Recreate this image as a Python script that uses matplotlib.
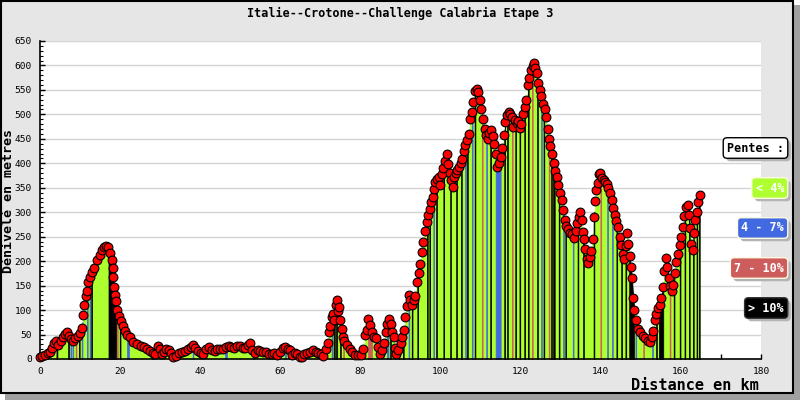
import matplotlib
matplotlib.use("Agg")
import matplotlib.pyplot as plt
import numpy as np
from matplotlib.patches import Rectangle, FancyBboxPatch
from matplotlib.transforms import IdentityTransform

# profile (km, metres)
dist_km = [
    0.0, 0.6, 1.2, 1.9, 2.5, 3.1, 3.6, 4.0, 4.6, 5.2, 5.8, 6.3, 6.8, 7.3, 7.8, 8.3, 8.8, 9.4,
    10.0, 10.4, 10.8, 11.1, 11.4, 11.7, 12.0, 12.4, 12.9, 13.4, 14.2, 15.0, 15.6, 16.1, 16.6,
    17.1, 17.6, 17.9, 18.1, 18.3, 18.5, 18.8, 19.0, 19.3, 19.7, 20.1, 20.6, 21.2, 21.8, 22.5,
    23.3, 24.2, 25.1, 26.0, 26.8, 27.5, 28.2, 28.8, 29.4, 29.9, 30.4, 30.9, 31.5, 32.1, 32.7,
    33.3, 34.0, 34.8, 35.5, 36.3, 37.0, 37.6, 38.2, 38.8, 39.4, 40.1, 40.8, 41.5, 42.2, 42.9,
    43.6, 44.3, 45.0, 45.7, 46.4, 47.1, 47.8, 48.5, 49.2, 49.9, 50.6, 51.3, 52.0, 52.5, 53.0,
    53.6, 54.3, 55.0, 55.7, 56.4, 57.1, 57.8, 58.5, 59.2, 59.9, 60.6, 61.2, 61.8, 62.4, 63.0,
    63.6, 64.2, 64.8, 65.4, 66.0, 66.7, 67.4, 68.1, 68.8, 69.5, 70.1, 70.7, 71.3, 71.8, 72.2,
    72.5, 72.8, 73.1, 73.5, 73.8, 74.1, 74.4, 74.7, 75.0, 75.3, 75.6, 76.0, 76.6, 77.3, 78.0,
    78.7, 79.4, 80.1, 80.7, 81.2, 81.6, 82.0, 82.4, 82.8, 83.3, 83.8, 84.3, 84.8, 85.3, 85.8,
    86.3, 86.7, 87.2, 87.6, 88.0, 88.3, 88.6, 89.0, 89.5, 90.0, 90.4, 90.8, 91.2, 91.6, 92.0,
    92.4, 92.8, 93.3, 93.7, 94.1, 94.5, 94.9, 95.3, 95.7, 96.1, 96.5, 96.9, 97.3, 97.7, 98.0,
    98.4, 98.7, 99.1, 99.5, 99.9, 100.3, 100.7, 101.1, 101.5, 101.9, 102.3, 102.7, 103.0,
    103.4, 103.8, 104.2, 104.6, 105.0, 105.4, 105.8, 106.2, 106.6, 107.0, 107.4, 107.8,
    108.2, 108.6, 109.0, 109.4, 109.8, 110.2, 110.6, 111.0, 111.4, 111.8, 112.2, 112.6,
    113.0, 113.4, 113.8, 114.2, 114.6, 115.0, 115.4, 115.8, 116.2, 116.6, 117.0, 117.4,
    117.8, 118.2, 118.6, 119.0, 119.4, 119.8, 120.2, 120.6, 121.0, 121.4, 121.8, 122.2,
    122.6, 123.0, 123.3, 123.7, 124.0, 124.4, 124.8, 125.2, 125.6, 126.0, 126.4, 126.7,
    127.0, 127.4, 127.8, 128.2, 128.6, 129.0, 129.4, 129.8, 130.2, 130.6, 131.0, 131.4,
    131.8, 132.3, 132.8, 133.3, 133.7, 134.1, 134.5, 134.8, 135.2, 135.5, 135.8, 136.1,
    136.5, 136.8, 137.2, 137.6, 138.0, 138.3, 138.6, 138.9, 139.2, 139.6, 139.9, 140.3,
    140.7, 141.1, 141.5, 141.9, 142.3, 142.7, 143.1, 143.5, 143.9, 144.3, 144.7, 145.1,
    145.5, 145.8, 146.2, 146.6, 146.9, 147.2, 147.5, 147.8, 148.1, 148.4, 148.8, 149.3,
    149.9, 150.5, 151.1, 151.7, 152.2, 152.7, 153.1, 153.5, 153.9, 154.3, 154.7, 155.1,
    155.5, 155.9, 156.2, 156.6, 157.0, 157.3, 157.7, 158.1, 158.5, 158.9, 159.3, 159.7,
    160.1, 160.5, 160.9, 161.3, 161.7, 162.0, 162.3, 162.6, 162.9, 163.2, 163.5, 163.9,
    164.3, 164.7,
]
elev_m = [
    5, 6, 9, 12, 15, 22, 33, 37, 28, 36, 45, 52, 55, 48, 40, 37, 42, 47,
    53, 64, 90, 110, 128, 140, 158, 167, 178, 186, 202, 212, 222, 228, 231,
    229, 216, 203, 185, 168, 148, 130, 118, 100, 88, 78, 67, 58, 50, 45,
    35, 30, 27, 24, 20, 16, 12, 10, 26, 20, 10, 14, 20, 18, 12,
    4, 7, 12, 15, 17, 20, 25, 28, 22, 17, 13, 10, 20, 24, 18,
    17, 20, 21, 20, 25, 27, 25, 23, 27, 27, 22, 23, 28, 33, 18,
    12, 18, 16, 14, 15, 11, 10, 12, 9, 14, 22, 25, 20, 18, 8,
    12, 10, 5, 4, 10, 12, 15, 18, 14, 12, 10, 7, 20, 32, 55,
    68, 86, 92, 80, 110, 121, 98, 106, 80, 62, 45, 36, 28, 20, 14,
    9, 8, 9, 20, 50, 60, 82, 70, 55, 45, 42, 25, 10, 18, 33,
    55, 72, 82, 72, 55, 45, 22, 10, 18, 33, 45, 60, 85, 108, 130,
    120, 110, 120, 128, 158, 176, 194, 218, 240, 262, 280, 294, 306, 320, 332,
    348, 362, 368, 372, 355, 378, 390, 405, 419, 398, 380, 365, 352,
    372, 380, 387, 392, 400, 408, 425, 437, 448, 460, 490, 505,
    525, 548, 552, 545, 530, 510, 490, 470, 458, 450, 462, 468,
    455, 440, 420, 392, 400, 412, 432, 458, 484, 498, 505, 500,
    494, 475, 488, 482, 486, 472, 480, 500, 515, 530, 560, 575,
    590, 598, 605, 595, 585, 565, 550, 538, 522, 510, 495, 470,
    450, 435, 420, 400, 385, 372, 355, 340, 325, 305, 285, 272,
    265, 258, 255, 248, 262, 278, 290, 300, 285, 260, 245, 225,
    205, 196, 208, 220, 245, 290, 322, 345, 360, 378, 380, 370,
    365, 362, 358, 350, 340, 325, 308, 295, 282, 270, 250, 232,
    215, 204, 230, 258, 235, 210, 188, 165, 125, 100, 80, 62,
    55, 48, 42, 37, 35, 45, 58, 80, 92, 105, 110, 125,
    148, 180, 206, 188, 165, 150, 140, 152, 175, 198, 215, 232,
    250, 270, 292, 310, 315, 295, 268, 235, 222, 258, 285, 300,
    320, 335,
]

# slope classes and the stretches shown in a non-green class (km start, km end, class)
class_labels = ["< 4%", "4 - 7%", "7 - 10%", "> 10%"]
class_colors = ["#adff2f", "#4169e1", "#cd5c5c", "#000000"]

band_start = [
    4.1, 7.0, 7.6, 8.1, 8.9, 9.7, 10.4, 11.7, 12.4, 12.8, 17.1, 19.2, 19.9, 21.7, 27.9,
    38.1, 46.2, 53.2, 61.1, 63.0, 72.8, 73.3, 73.9, 74.9, 75.7, 81.9, 86.6, 87.4, 88.6,
    89.5, 90.6, 92.0, 92.8, 94.2, 96.6, 97.2, 98.2, 98.9, 100.7, 102.4, 103.9, 105.1,
    106.15, 106.6, 107.8, 108.5, 110.3, 111.4, 112.4, 113.75, 115.9, 116.6, 117.8, 118.65,
    119.7, 120.9, 121.8, 122.8, 124.1, 125.1, 125.7, 127.0, 127.6, 128.1, 129.5, 130.6,
    131.15, 133.0, 134.2, 135.6, 138.2, 139.9, 141.6, 142.8, 143.9, 145.1, 146.15, 147.1,
    148.65, 150.6, 152.8, 153.8, 154.5, 157.2, 158.2, 159.7, 160.9, 162.0, 163.0, 163.9,
    164.5,
]
band_end = [
    4.35, 7.25, 7.8, 8.3, 9.1, 9.9, 10.6, 11.9, 12.6, 13.0, 19.0, 19.4, 20.1, 22.2, 28.6,
    38.3, 46.7, 53.4, 61.4, 63.3, 73.0, 73.6, 74.2, 75.1, 75.9, 82.9, 87.0, 87.6, 88.8,
    89.7, 90.8, 92.2, 93.0, 94.4, 96.8, 97.4, 98.4, 99.1, 100.9, 102.6, 104.1, 105.3,
    106.35, 106.8, 108.0, 108.7, 110.5, 111.6, 112.6, 115.0, 116.1, 116.8, 118.0, 118.85,
    119.9, 121.1, 122.0, 123.0, 124.3, 125.3, 125.9, 127.2, 127.8, 128.5, 129.7, 130.8,
    131.35, 133.2, 134.4, 135.8, 138.4, 140.1, 141.8, 143.0, 144.1, 145.3, 146.35, 148.3,
    148.85, 150.8, 153.0, 154.0, 155.6, 157.4, 158.4, 159.9, 161.1, 162.2, 163.2, 164.1,
    164.7,
]
band_class = [
    3, 3, 1, 1, 2, 3, 1, 1, 1, 3, 3, 2, 3, 1, 1,
    1, 1, 1, 1, 3, 1, 3, 3, 3, 2, 2, 1, 3, 3,
    3, 3, 1, 3, 3, 3, 3, 1, 3, 3, 3, 3, 3,
    1, 3, 1, 3, 2, 1, 3, 1, 3, 3, 2, 3,
    3, 3, 3, 2, 3, 1, 3, 2, 3, 3, 3, 1,
    3, 1, 3, 3, 3, 2, 1, 1, 3, 3, 3, 3,
    1, 2, 1, 3, 3, 2, 3, 3, 3, 3, 3, 3,
    3,
]

x_ticks = list(range(0, 181, 20))
y_ticks = list(range(0, 651, 50))

MONO = "DejaVu Sans Mono"
BG = "#e6e6e6"

fig = plt.figure(figsize=(8, 4), dpi=100, facecolor="white")

# frame with drop shadow, kept behind the axes
fig.patches.append(Rectangle((5 / 800, 0), 795 / 800, 395 / 400, transform=fig.transFigure,
                             facecolor="#a0a0a0", edgecolor="none", zorder=-2))
fig.patches.append(Rectangle((0.5 / 800, 7 / 400), 792 / 800, 392.5 / 400, transform=fig.transFigure,
                             facecolor=BG, edgecolor="black", linewidth=1.5, zorder=-1))

ax = fig.add_axes([40 / 800, 41 / 400, 721 / 800, 318 / 400])
ax.set_facecolor("white")

dist = np.array(dist_km)
elev = np.array(elev_m, dtype=float)

ax.fill_between(dist, elev, 0, color=class_colors[0], linewidth=0, zorder=2)
for s, e, c in zip(band_start, band_end, band_class):
    xs = np.concatenate(([s], dist[(dist > s) & (dist < e)], [e]))
    ax.fill_between(xs, np.interp(xs, dist, elev), 0, facecolor=class_colors[c],
                    edgecolor=class_colors[c], linewidth=0.5, zorder=2.5)

ax.scatter(dist, elev, s=40, c="#ff0000", edgecolors="black", linewidths=0.8,
           zorder=3, clip_on=False)

ax.set_xlim(0, 180)
ax.set_ylim(0, 650)
ax.set_xticks(x_ticks)
ax.set_xticks(range(10, 180, 20), minor=True)
ax.set_yticks(y_ticks)
ax.set_yticks(range(0, 651, 10), minor=True)
ax.yaxis.grid(True, color="#d4d4d4", linewidth=1)
ax.set_axisbelow(True)
for side in ("top", "right"):
    ax.spines[side].set_visible(False)
for side in ("left", "bottom"):
    ax.spines[side].set_color("black")
    ax.spines[side].set_linewidth(1.2)
ax.tick_params(axis="both", which="major", direction="in", length=3.5, width=1,
               labelsize=6.8, colors="black")
ax.tick_params(axis="x", which="minor", direction="in", length=3.5, width=1)
ax.tick_params(axis="y", which="minor", direction="in", length=2, width=0.8)
ax.tick_params(axis="y", which="major", pad=6)
ax.tick_params(axis="x", which="major", pad=6)
for lab in ax.get_xticklabels() + ax.get_yticklabels():
    lab.set_family(MONO)

fig.text(0.5, 1 - 13 / 400, "Italie--Crotone--Challenge Calabria Etape 3", ha="center",
         va="center", family=MONO, weight="bold", fontsize=8.5)
fig.text(8.2 / 800, 1 - 201 / 400, "Dénivelé en metres", rotation=90, ha="center",
         va="center", family=MONO, weight="bold", fontsize=9.5)
fig.text(759 / 800, 1 - 385 / 400, "Distance en km", ha="right", va="center",
         family=MONO, weight="bold", fontsize=11)

# legend boxes on the right
legend_texts = []


def legend_box(ypix, text, fc, tc, ec):
    t = fig.text(784 / 800, 1 - ypix / 400, text, ha="right", va="center", family=MONO,
                 weight="bold", fontsize=8.5, color=tc, zorder=5,
                 bbox=dict(boxstyle="round,pad=0.32", fc=fc, ec=ec, lw=1))
    legend_texts.append(t)


legend_box(148, "Pentes :", "white", "black", "black")
for i, (lab, col) in enumerate(zip(class_labels, class_colors)):
    legend_box(188 + 40 * i, lab, col, "white", "#fffbe0" if i < 3 else "#333333")

# drop shadows under the legend boxes
fig.canvas.draw()
renderer = fig.canvas.get_renderer()
for t in legend_texts:
    bb = t.get_bbox_patch().get_window_extent(renderer)
    fig.patches.append(FancyBboxPatch((bb.x0 + 3, bb.y0 - 3), bb.width, bb.height,
                                      boxstyle="round,pad=0,rounding_size=4",
                                      transform=IdentityTransform(), facecolor="#b4b4b4",
                                      edgecolor="none", zorder=1))

fig.savefig("out.png", dpi=100, facecolor=fig.get_facecolor())
